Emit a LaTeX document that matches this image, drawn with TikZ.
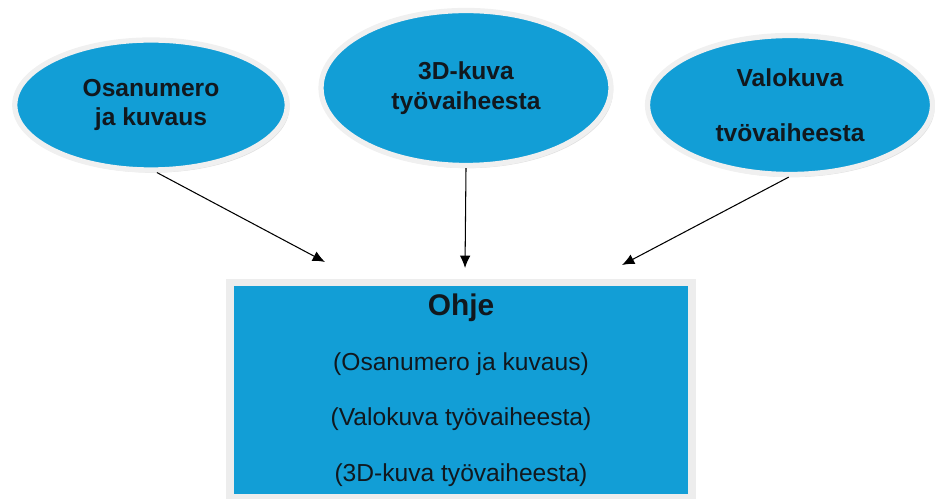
\documentclass[tikz,border=0pt]{standalone}
\usepackage{fontspec}
\setmainfont{Liberation Sans}
\usepackage{xcolor}
\usepackage{tikz}
\usetikzlibrary{arrows.meta,positioning,shapes.geometric,shadows}
\definecolor{ohjesin}{RGB}{18,158,214}
\definecolor{tumma}{RGB}{17,24,30}
\tikzset{lahde/.style={ellipse,fill=ohjesin,draw=black!6,line width=3pt,text=tumma,
    align=center,font=\bfseries\fontsize{14}{17}\selectfont,
    drop shadow={opacity=0.25,shadow xshift=1.2pt,shadow yshift=-1.5pt}},
  ohjebox/.style={rectangle,fill=ohjesin,draw=black!7,line width=4.5pt,text=tumma,
    align=center,font=\fontsize{14}{31.5}\selectfont}}

\begin{document}
\begin{tikzpicture}[>=Latex,x=0.02cm,y=-0.02cm]
    \useasboundingbox (0,0) rectangle (935,499);

    \node[lahde,minimum width=5.45cm,minimum height=2.6cm] (osa) at (151,105)
      {Osanumero\\ja kuvaus};
    \node[lahde,minimum width=5.8cm,minimum height=3.1cm] (kuva) at (466,88)
      {3D-kuva\\työvaiheesta};
    \node[lahde,minimum width=5.7cm,minimum height=2.78cm,
      font=\bfseries\fontsize{14}{31}\selectfont] (valo) at (790,105)
      {Valokuva\\tvövaiheesta};

    \node[ohjebox,minimum width=9.24cm,minimum height=4.3cm] (ohje) at (461,390)
      {{\bfseries\fontsize{17}{31.5}\selectfont Ohje}\\
       (Osanumero ja kuvaus)\\
       (Valokuva työvaiheesta)\\
       (3D-kuva työvaiheesta)};

    \coordinate (kL) at (325,262);
    \coordinate (kM) at (465,268);
    \coordinate (kR) at (622,265);
    \foreach \alku/\loppu in {osa.-85/kL,kuva.south/kM,valo.-91/kR} {
      \draw[->,line width=0.6pt,>={Latex[length=7pt,width=6pt]}] (\alku) -- (\loppu);
    }
  \end{tikzpicture}
\end{document}
